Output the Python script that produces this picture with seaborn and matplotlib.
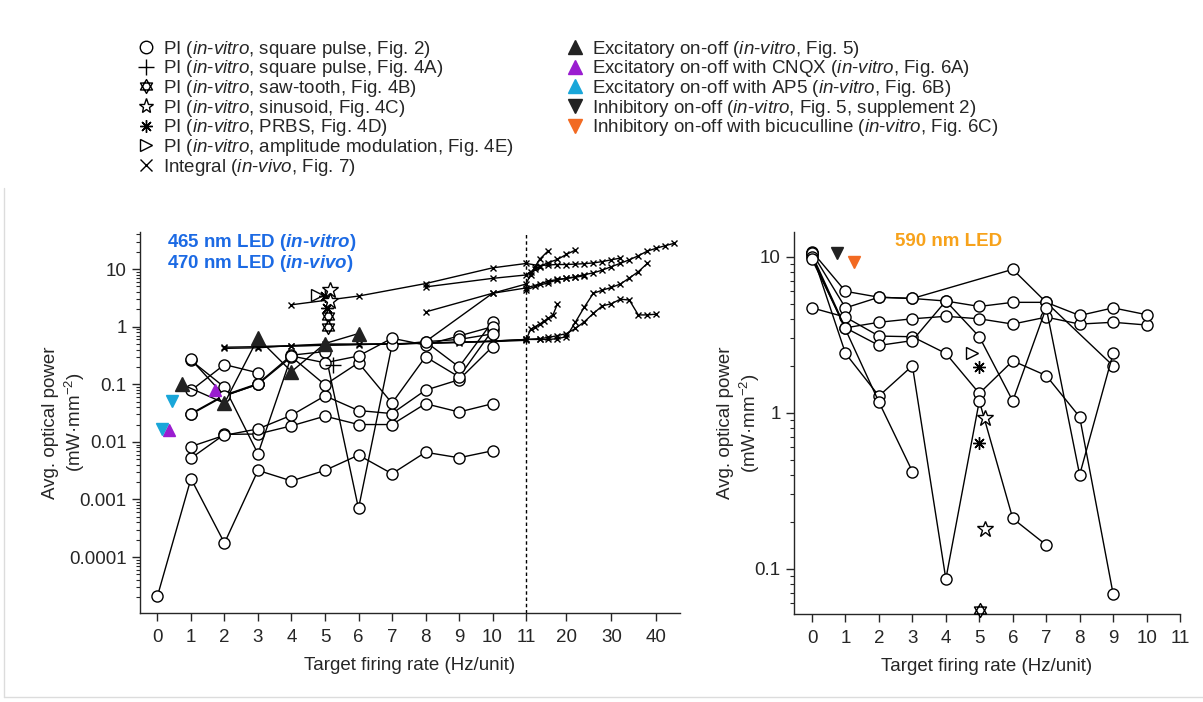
import numpy as np
import pandas as pd
import matplotlib
matplotlib.use("Agg")
import matplotlib.pyplot as plt
import seaborn as sns
from matplotlib.lines import Line2D
from matplotlib.path import Path
from matplotlib.ticker import FixedLocator, FuncFormatter, LogLocator, NullLocator, NullFormatter

# -----------------------------
# 1. Data
# -----------------------------
# 465 nm, PI square pulse (Fig. 2), circles
rates_0_10 = list(range(0, 11))
rates_1_10 = list(range(1, 11))
rates_1_3 = [1, 2, 3]
rates_8_10 = [8, 9, 10]
blue_pi_a = [2.1e-5, 0.0023, 1.75e-4, 0.0032, 0.0021, 0.0032, 0.0059, 0.0028, 0.0066, 0.0053, 0.007]
blue_pi_b = [0.0052, 0.0135, 0.0137, 0.019, 0.028, 0.020, 0.020, 0.046, 0.033, 0.046]
blue_pi_c = [0.0083, 0.013, 0.0168, 0.029, 0.063, 0.035, 0.031, 0.079, 0.12, 0.45]
blue_pi_d = [0.030, 0.063, 0.10, 0.30, 0.098, 0.236, 0.047, 0.30, 0.134, 0.87]
blue_pi_e = [0.031, 0.065, 0.103, 0.32, 0.37, 0.0007, 0.48, 0.55, 0.2, 1.22]
blue_pi_f = [0.26, 0.089, 0.0062, 0.31, 0.236, 0.31, 0.63, 0.48, 0.69, 1.0]
blue_pi_g = [0.078, 0.22, 0.158]
blue_pi_h = [0.27, 0.063, 0.10]
blue_pi_i = [0.55, 0.6, 0.75]

# 470 nm, integral controller in vivo (Fig. 7), crosses; rates in Hz
vivo_a_rate = [4, 6, 8, 10, 11, 14, 16, 18, 20, 22, 24, 26, 28, 30, 32]
vivo_a_pow = [2.4, 3.4, 5.6, 10.5, 12.5, 11.5, 11.8, 12, 12, 12.2, 12.4, 12.8, 13.5, 14.5, 15.5]
vivo_b_rate = [8, 10, 11, 12, 13, 14, 16, 18, 20, 22]
vivo_b_pow = [4.9, 6.9, 7.9, 9, 10, 11, 13, 14.7, 18, 21.4]
vivo_c_rate = [8, 10, 11, 14, 16, 18, 20, 22, 24]
vivo_c_pow = [1.8, 3.8, 4.7, 5.5, 6.2, 6.6, 6.9, 7.2, 7.7]
vivo_d_rate = [8, 10, 11, 12, 13, 14, 16]
vivo_d_pow = [0.55, 3.8, 5.5, 8, 11, 14.7, 21]
vivo_e_rate = [2, 3, 4, 5, 6, 7, 8, 9, 10, 11, 14, 16, 18, 20, 22, 24, 26, 28, 30, 32, 34, 36, 38, 40]
vivo_e_pow = [0.42, 0.43, 0.47, 0.5, 0.5, 0.5, 0.52, 0.54, 0.56, 0.6, 0.62, 0.65, 0.7, 0.76,
              0.93, 1.22, 1.7, 2.3, 2.5, 3.0, 2.9, 1.6, 1.6, 1.65]
vivo_f_rate = [2, 4, 6, 8, 10, 11, 12, 13, 14, 15, 16, 17, 18]
vivo_f_pow = [0.44, 0.46, 0.49, 0.52, 0.55, 0.58, 0.9, 1.0, 1.1, 1.25, 1.4, 1.6, 2.5]
vivo_g_rate = [3, 5, 7, 9, 11, 14, 16, 18, 20, 22, 24, 26, 28, 30, 32, 34, 36, 38]
vivo_g_pow = [0.45, 0.48, 0.5, 0.53, 0.6, 0.6, 0.6, 0.62, 0.67, 1.2, 2.2, 3.8, 4.3, 4.8, 5.5, 7, 9, 12.5]
vivo_h_rate = [11, 13, 16, 18, 20, 22, 24, 26, 28, 30, 32, 34, 36, 38, 40, 42, 44]
vivo_h_pow = [4.3, 5, 5.8, 6.5, 6.9, 7.4, 8, 8.6, 9.6, 11, 12.6, 14.5, 17, 20.5, 23, 25.5, 28]

# 465 nm, other protocols
exc_rate = [0.72, 2, 3, 4, 5, 6]
exc_pow = [0.10, 0.047, 0.63, 0.166, 0.51, 0.76]
cnqx_rate = [0.34, 1.72]
cnqx_pow = [0.016, 0.078]
ap5_rate = [0.14, 0.44]
ap5_pow = [0.017, 0.051]
plus_rate = [5.25]
plus_pow = [0.215]
saw_rate = [5.1, 5.1]
saw_pow = [1.55, 1.0]
sin_rate = [5.15, 5.15]
sin_pow = [4.4, 2.75]
prbs_rate = [5.0, 5.05]
prbs_pow = [3.4, 2.15]
am_rate = [4.75]
am_pow = [3.5]

# 590 nm, PI square pulse, circles
or_a_rate = [0, 1, 2, 3, 6, 7, 9]
or_a_pow = [10.8, 6.0, 5.5, 5.4, 8.3, 5.1, 2.0]
or_b_pow = [10.3, 3.5, 3.8, 4.0, 4.15, 4.0, 3.7, 4.1, 3.7, 3.8, 3.65]
or_c_pow = [10.6, 4.7, 5.5, 5.4, 5.2, 4.8, 5.1, 5.1, 4.2, 4.7, 4.25]
or_d_rate = list(range(0, 10))
or_d_pow = [4.7, 4.1, 3.1, 3.07, 2.4, 1.33, 2.15, 1.73, 0.94, 0.069]
or_e_rate = list(range(0, 8))
or_e_pow = [10.5, 2.4, 1.28, 2.0, 0.086, 1.19, 0.21, 0.142]
or_f_rate = [0, 2, 3]
or_f_pow = [10.0, 1.17, 0.42]
or_g_pow = [9.6, 3.5, 2.7, 2.9, 5.2, 3.07, 1.19, 4.7, 0.40, 2.4]

# 590 nm, other protocols
inh_rate = [0.74]
inh_pow = [10.6]
bic_rate = [1.26]
bic_pow = [9.3]
am2_rate = [4.77]
am2_pow = [2.4]
prbs2_rate = [5.0, 5.0]
prbs2_pow = [1.97, 0.64]
sin2_rate = [5.16, 5.16]
sin2_pow = [0.93, 0.18]
saw2_rate = [5.03]
saw2_pow = [0.054]

BLUE = "#1c6ae4"
ORANGE_TXT = "#f7a21b"
PURPLE = "#9a1dd0"
CYAN = "#19a6d9"
ORANGE = "#f26a22"
DARK = "#222222"
FS = 13.5


def frame(pairs):
    rows = []
    for k, (xs, ys) in enumerate(pairs):
        for x, y in zip(xs, ys):
            rows.append([k, x, y])
    return pd.DataFrame(rows, columns=["series", "rate", "power"])


blue_pi = frame([(rates_0_10, blue_pi_a), (rates_1_10, blue_pi_b), (rates_1_10, blue_pi_c),
                 (rates_1_10, blue_pi_d), (rates_1_10, blue_pi_e), (rates_1_10, blue_pi_f),
                 (rates_1_3, blue_pi_g), (rates_1_3, blue_pi_h), (rates_8_10, blue_pi_i)])
vivo = frame([(vivo_a_rate, vivo_a_pow), (vivo_b_rate, vivo_b_pow), (vivo_c_rate, vivo_c_pow),
              (vivo_d_rate, vivo_d_pow), (vivo_e_rate, vivo_e_pow), (vivo_f_rate, vivo_f_pow),
              (vivo_g_rate, vivo_g_pow), (vivo_h_rate, vivo_h_pow)])
orange_pi = frame([(or_a_rate, or_a_pow), (rates_0_10, or_b_pow), (rates_0_10, or_c_pow),
                   (or_d_rate, or_d_pow), (or_e_rate, or_e_pow), (or_f_rate, or_f_pow),
                   (or_d_rate, or_g_pow)])

# hexagram (star of David) marker for the saw-tooth points
ang_up = np.deg2rad([90, 210, 330])
ang_dn = np.deg2rad([270, 30, 150])
hex_verts = ([(np.cos(a), np.sin(a)) for a in ang_up] + [(0, 0)] +
             [(np.cos(a), np.sin(a)) for a in ang_dn] + [(0, 0)])
hex_codes = [Path.MOVETO, Path.LINETO, Path.LINETO, Path.CLOSEPOLY] * 2
HEXAGRAM = Path(hex_verts, hex_codes)

# -----------------------------
# 2. Style
# -----------------------------
sns.set_style("ticks")
plt.rcParams["font.family"] = ["Liberation Sans", "DejaVu Sans"]
plt.rcParams["mathtext.fontset"] = "custom"
plt.rcParams["mathtext.rm"] = "Liberation Sans"
plt.rcParams["mathtext.it"] = "Liberation Sans:italic"
plt.rcParams["mathtext.bf"] = "Liberation Sans:bold"
try:
    plt.rcParams["mathtext.bfit"] = "Liberation Sans:italic:bold"
    BFIT = r"\mathbfit"
except KeyError:
    BFIT = r"\mathit"
plt.rcParams["axes.linewidth"] = 1.0
plt.rcParams["xtick.major.width"] = 1.0
plt.rcParams["ytick.major.width"] = 1.0
plt.rcParams["ytick.minor.width"] = 0.8
plt.rcParams["xtick.major.size"] = 5.5
plt.rcParams["ytick.major.size"] = 5.5
plt.rcParams["ytick.minor.size"] = 3
plt.rcParams["xtick.labelsize"] = FS
plt.rcParams["ytick.labelsize"] = FS


# broken x axis: 0-11 Hz on a wide scale, then 11-45 Hz compressed
def fwd(x):
    x = np.asarray(x, dtype=float)
    return np.where(x <= 11, x, 11 + (x - 11) * 0.134)


def inv(u):
    u = np.asarray(u, dtype=float)
    return np.where(u <= 11, u, 11 + (u - 11) / 0.134)


fig = plt.figure(figsize=(12.03, 7.02), dpi=100)
ax1 = fig.add_axes([0.1164, 0.1268, 0.4489, 0.5427])
ax2 = fig.add_axes([0.660, 0.1254, 0.3209, 0.5441])

ax1.set_xscale("function", functions=(fwd, inv))
ax1.set_yscale("log")
ax2.set_yscale("log")

line_kw = dict(estimator=None, sort=False, color="black", lw=1.0, legend=False)
circle_kw = dict(marker="o", ms=8, mfc="white", mec="black", mew=1.0)

# -----------------------------
# 3. Left panel (465 / 470 nm)
# -----------------------------
ax1.axvline(11, color="black", lw=1.0, ls=(0, (2.5, 2)), zorder=1)
sns.lineplot(data=vivo, x="rate", y="power", units="series", marker="x", ms=5,
             mec="black", mew=1.0, ax=ax1, **line_kw)
sns.lineplot(data=blue_pi, x="rate", y="power", units="series", ax=ax1, **line_kw, **circle_kw)
ax1.plot(exc_rate, exc_pow, color="black", lw=1.0, marker="^", ms=10, mfc=DARK, mec=DARK, zorder=4)
ax1.plot(cnqx_rate, cnqx_pow, ls="none", marker="^", ms=9, color=PURPLE, zorder=4)
ax1.plot(ap5_rate, ap5_pow, ls="none", marker="v", ms=9, color=CYAN, zorder=4)
ax1.plot(plus_rate, plus_pow, ls="none", marker="+", ms=12, mew=1.0, color="black", zorder=4)
ax1.plot(am_rate, am_pow, ls="none", marker=">", ms=9, mfc="white", mec="black", mew=1.0, zorder=5)
ax1.plot(prbs_rate, prbs_pow, ls="none", marker=(8, 2, 0), ms=9, mec="black", mew=1.0, zorder=5)
ax1.plot(sin_rate, sin_pow, ls="none", marker="*", ms=12, mfc="white", mec="black", mew=1.0, zorder=5)
ax1.plot(saw_rate, saw_pow, ls="none", marker=HEXAGRAM, ms=10, mfc="white", mec="black", mew=1.0, zorder=5)

ax1.set_xlim(-0.52, 45.3)
ax1.set_ylim(1.07e-5, 44)
ax1.xaxis.set_major_locator(FixedLocator(list(range(12)) + [20, 30, 40]))
ax1.xaxis.set_minor_locator(NullLocator())
ax1.xaxis.set_major_formatter(FuncFormatter(lambda v, _: f"{v:g}"))

ax1.text(0.05, 0.972, r"465 nm LED ($" + BFIT + r"{in}$-$" + BFIT + r"{vitro}$)",
         transform=ax1.transAxes, color=BLUE, fontsize=FS, fontweight="bold", va="center")
ax1.text(0.05, 0.917, r"470 nm LED ($" + BFIT + r"{in}$-$" + BFIT + r"{vivo}$)",
         transform=ax1.transAxes, color=BLUE, fontsize=FS, fontweight="bold", va="center")

# -----------------------------
# 4. Right panel (590 nm)
# -----------------------------
sns.lineplot(data=orange_pi, x="rate", y="power", units="series", ax=ax2, **line_kw, **circle_kw)
ax2.plot(inh_rate, inh_pow, ls="none", marker="v", ms=9, color=DARK, zorder=4)
ax2.plot(bic_rate, bic_pow, ls="none", marker="v", ms=9, color=ORANGE, zorder=4)
ax2.plot(am2_rate, am2_pow, ls="none", marker=">", ms=9, mfc="white", mec="black", mew=1.0, zorder=5)
ax2.plot(prbs2_rate, prbs2_pow, ls="none", marker=(8, 2, 0), ms=9, mec="black", mew=1.0, zorder=5)
ax2.plot(sin2_rate, sin2_pow, ls="none", marker="*", ms=12, mfc="white", mec="black", mew=1.0, zorder=5)
ax2.plot(saw2_rate, saw2_pow, ls="none", marker=HEXAGRAM, ms=10, mfc="white", mec="black", mew=1.0,
         zorder=5, clip_on=False)

ax2.set_xlim(-0.54, 11)
ax2.set_ylim(0.0513, 14.4)
ax2.xaxis.set_major_locator(FixedLocator(list(range(12))))
ax2.text(0.40, 0.976, "590 nm LED", transform=ax2.transAxes, color=ORANGE_TXT,
         fontsize=FS, fontweight="bold", ha="center", va="center")

for ax in (ax1, ax2):
    sns.despine(ax=ax)
    ax.yaxis.set_major_locator(LogLocator(base=10, numticks=20))
    ax.yaxis.set_minor_locator(LogLocator(base=10, subs=np.arange(2, 10), numticks=20))
    ax.yaxis.set_minor_formatter(NullFormatter())
    ax.yaxis.set_major_formatter(FuncFormatter(lambda v, _: f"{v:g}"))
    ax.tick_params(axis="both", direction="out", pad=4)
    ax.tick_params(axis="x", pad=6)
    ax.set_xlabel("Target firing rate (Hz/unit)", fontsize=FS, labelpad=8)
    ax.set_ylabel("Avg. optical power\n(mW·mm$^{-2}$)", fontsize=FS)
ax1.yaxis.set_label_coords(-0.098, 0.5)
ax2.yaxis.set_label_coords(-0.083, 0.5)

# faint outer panel frame seen in the original figure
fig.add_artist(Line2D([4 / 1203, 4 / 1203], [1 - 188 / 702, 1 - 697 / 702], color="#dcdcdc", lw=1.0))
fig.add_artist(Line2D([4 / 1203, 1.0], [1 - 697 / 702, 1 - 697 / 702], color="#dcdcdc", lw=1.0))

# -----------------------------
# 5. Legends
# -----------------------------
def it(s):
    return r"$\mathit{" + s + "}$"


iv = it("in") + "-" + it("vitro") + ","
mk_kw = dict(ls="none", mew=1.0)
left_handles = [
    Line2D([], [], marker="o", ms=9, mfc="white", mec="black", **mk_kw),
    Line2D([], [], marker="+", ms=11, color="black", **mk_kw),
    Line2D([], [], marker=HEXAGRAM, ms=10, mfc="white", mec="black", **mk_kw),
    Line2D([], [], marker="*", ms=11, mfc="white", mec="black", **mk_kw),
    Line2D([], [], marker=(8, 2, 0), ms=9, mec="black", **mk_kw),
    Line2D([], [], marker=">", ms=9, mfc="white", mec="black", **mk_kw),
    Line2D([], [], marker="x", ms=8, mec="black", **mk_kw),
]
left_labels = [
    "PI (" + iv + " square pulse, Fig. 2)",
    "PI (" + iv + " square pulse, Fig. 4A)",
    "PI (" + iv + " saw-tooth, Fig. 4B)",
    "PI (" + iv + " sinusoid, Fig. 4C)",
    "PI (" + iv + " PRBS, Fig. 4D)",
    "PI (" + iv + " amplitude modulation, Fig. 4E)",
    "Integral (" + it("in") + "-" + it("vivo") + ", Fig. 7)",
]
right_handles = [
    Line2D([], [], marker="^", ms=10, color=DARK, **mk_kw),
    Line2D([], [], marker="^", ms=10, color=PURPLE, **mk_kw),
    Line2D([], [], marker="^", ms=10, color=CYAN, **mk_kw),
    Line2D([], [], marker="v", ms=10, color=DARK, **mk_kw),
    Line2D([], [], marker="v", ms=10, color=ORANGE, **mk_kw),
]
right_labels = [
    "Excitatory on-off (" + iv + " Fig. 5)",
    "Excitatory on-off with CNQX (" + iv + " Fig. 6A)",
    "Excitatory on-off with AP5 (" + iv + " Fig. 6B)",
    "Inhibitory on-off (" + iv + " Fig. 5, supplement 2)",
    "Inhibitory on-off with bicuculline (" + iv + " Fig. 6C)",
]
leg_kw = dict(loc="upper left", frameon=False, fontsize=FS, handlelength=1.0,
              handletextpad=0.4, labelspacing=-0.07, borderpad=0, borderaxespad=0)
fig.legend(left_handles, left_labels, bbox_to_anchor=(0.1139, 0.945), **leg_kw)
fig.legend(right_handles, right_labels, bbox_to_anchor=(0.4705, 0.945), **leg_kw)

fig.savefig("out.png", dpi=100)
